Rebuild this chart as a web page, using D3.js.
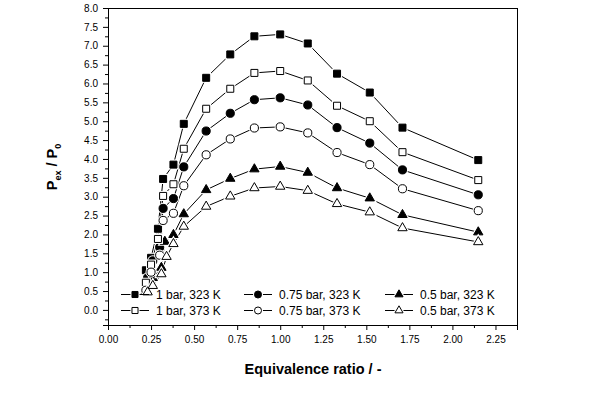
<!DOCTYPE html>
<html>
<head>
<meta charset="utf-8">
<script src="https://cdn.jsdelivr.net/npm/d3@7"></script>
<style>
  body { margin: 0; background: #fff; }
  svg { display: block; font-family: Arial, "Liberation Sans", sans-serif; }
</style>
</head>
<body>
<div id="chart"></div>
<script>
// Equivalence ratio and Pex/P0 for each series
var phi1bar323 = [0.22, 0.25, 0.29, 0.32, 0.38, 0.44, 0.57, 0.71, 0.85, 1.00, 1.16, 1.33, 1.52, 1.71, 2.15];
var p1bar323   = [1.05, 1.38, 2.15, 3.47, 3.85, 4.93, 6.15, 6.77, 7.25, 7.30, 7.06, 6.26, 5.76, 4.83, 3.97];

var phi1bar373 = [0.22, 0.25, 0.29, 0.32, 0.38, 0.44, 0.57, 0.71, 0.85, 1.00, 1.16, 1.33, 1.52, 1.71, 2.15];
var p1bar373   = [0.72, 1.20, 1.88, 3.02, 3.33, 4.27, 5.33, 5.86, 6.28, 6.33, 6.08, 5.41, 5.00, 4.18, 3.44];

var phi075bar323 = [0.23, 0.26, 0.30, 0.32, 0.38, 0.44, 0.57, 0.71, 0.85, 1.00, 1.16, 1.33, 1.52, 1.71, 2.15];
var p075bar323   = [0.85, 1.30, 1.66, 2.69, 2.95, 3.79, 4.74, 5.21, 5.57, 5.62, 5.43, 4.83, 4.42, 3.71, 3.05];

var phi075bar373 = [0.22, 0.25, 0.30, 0.32, 0.38, 0.44, 0.57, 0.71, 0.85, 1.00, 1.16, 1.33, 1.52, 1.71, 2.15];
var p075bar373   = [0.52, 1.00, 1.45, 2.37, 2.56, 3.29, 4.11, 4.53, 4.82, 4.85, 4.69, 4.17, 3.85, 3.21, 2.63];

var phi05bar323 = [0.22, 0.26, 0.31, 0.33, 0.38, 0.44, 0.57, 0.71, 0.85, 1.00, 1.16, 1.33, 1.52, 1.71, 2.15];
var p05bar323   = [0.50, 0.85, 1.12, 1.81, 1.99, 2.54, 3.18, 3.48, 3.73, 3.80, 3.64, 3.23, 2.96, 2.52, 2.06];

var phi05bar373 = [0.23, 0.26, 0.31, 0.34, 0.38, 0.44, 0.57, 0.71, 0.85, 1.00, 1.16, 1.33, 1.52, 1.71, 2.15];
var p05bar373   = [0.47, 0.64, 0.95, 1.41, 1.75, 2.21, 2.74, 3.01, 3.23, 3.27, 3.16, 2.81, 2.59, 2.17, 1.80];

var seriesNames = ['1 bar, 323 K', '0.75 bar, 323 K', '0.5 bar, 323 K',
                   '1 bar, 373 K', '0.75 bar, 373 K', '0.5 bar, 373 K'];

var xTicks = [0, 0.25, 0.5, 0.75, 1, 1.25, 1.5, 1.75, 2, 2.25];
var yTicks = d3.range(0, 8.01, 0.5);

// Build series list (legend order: row 1 = 323 K, row 2 = 373 K)
var series = [
    { name: seriesNames[0], phi: phi1bar323,   p: p1bar323,   shape: d3.symbolSquare,   filled: true },
    { name: seriesNames[1], phi: phi075bar323, p: p075bar323, shape: d3.symbolCircle,   filled: true },
    { name: seriesNames[2], phi: phi05bar323,  p: p05bar323,  shape: d3.symbolTriangle, filled: true },
    { name: seriesNames[3], phi: phi1bar373,   p: p1bar373,   shape: d3.symbolSquare,   filled: false },
    { name: seriesNames[4], phi: phi075bar373, p: p075bar373, shape: d3.symbolCircle,   filled: false },
    { name: seriesNames[5], phi: phi05bar373,  p: p05bar373,  shape: d3.symbolTriangle, filled: false }
];

var svg = d3.select('#chart')
    .append('svg')
    .attr('width', 602)
    .attr('height', 399);

// Scales
var x = d3.scaleLinear().domain([0, 2.375]).range([108, 517]);
var y = d3.scaleLinear().domain([-0.4, 8]).range([325, 8]);

// Marker sizes (area)
function markerSize(shape, legend) {
    var k = legend ? 0.75 : 1;
    if (shape === d3.symbolSquare) return 49 * k;
    if (shape === d3.symbolCircle) return 52 * k;
    return 38 * k;
}

// Frame
svg.append('rect')
    .attr('x', 108.5).attr('y', 8.5)
    .attr('width', 409).attr('height', 317)
    .attr('fill', 'none').attr('stroke', '#000');

// X axis (major + minor)
var xAxis = svg.append('g')
    .attr('transform', 'translate(0,325)')
    .call(d3.axisBottom(x).tickValues(xTicks).tickSize(5).tickPadding(6)
        .tickFormat(d3.format('.2f')));
var xMinor = svg.append('g')
    .attr('transform', 'translate(0,325)')
    .call(d3.axisBottom(x).tickValues(d3.range(0.125, 2.4, 0.25)).tickSize(3).tickFormat(''));
xMinor.select('.domain').remove();

// Y axis (major + minor)
var yAxis = svg.append('g')
    .attr('transform', 'translate(108,0)')
    .call(d3.axisLeft(y).tickValues(yTicks).tickSize(5).tickPadding(5)
        .tickFormat(d3.format('.1f')));
var yMinor = svg.append('g')
    .attr('transform', 'translate(108,0)')
    .call(d3.axisLeft(y).tickValues(d3.range(-0.25, 8, 0.5)).tickSize(3).tickFormat(''));
yMinor.select('.domain').remove();

svg.selectAll('.tick text')
    .attr('font-family', 'Arial, "Liberation Sans", sans-serif')
    .attr('font-size', 10)
    .attr('fill', '#000');
svg.selectAll('.tick line, .domain').attr('stroke', '#000');

// Lines and markers
var line = d3.line()
    .x(function (d) { return x(d[0]); })
    .y(function (d) { return y(d[1]); });

series.forEach(function (s) {
    var pts = s.phi.map(function (v, i) { return [v, s.p[i]]; });
    svg.append('path')
        .datum(pts)
        .attr('d', line)
        .attr('fill', 'none')
        .attr('stroke', '#000')
        .attr('stroke-width', 1);
});

series.forEach(function (s) {
    var pts = s.phi.map(function (v, i) { return [v, s.p[i]]; });
    var sym = d3.symbol().type(s.shape).size(markerSize(s.shape, false));
    var g = svg.append('g');
    // white halo gives the small gap between line and marker
    g.selectAll('path.halo')
        .data(pts).enter().append('path')
        .attr('class', 'halo')
        .attr('d', sym)
        .attr('transform', function (d) { return 'translate(' + x(d[0]) + ',' + y(d[1]) + ')'; })
        .attr('fill', '#fff').attr('stroke', '#fff').attr('stroke-width', 3);
    g.selectAll('path.mark')
        .data(pts).enter().append('path')
        .attr('class', 'mark')
        .attr('d', sym)
        .attr('transform', function (d) { return 'translate(' + x(d[0]) + ',' + y(d[1]) + ')'; })
        .attr('fill', s.filled ? '#000' : '#fff')
        .attr('stroke', '#000').attr('stroke-width', 1);
});

// Legend: 3 columns x 2 rows
var legendCols = [121, 244, 385];
var legendRows = [294.5, 310.5];
series.forEach(function (s, i) {
    var cx = legendCols[i % 3];
    var cy = legendRows[Math.floor(i / 3)];
    var g = svg.append('g').attr('transform', 'translate(' + cx + ',' + cy + ')');
    g.append('line').attr('x1', 0).attr('x2', 28).attr('y1', 0).attr('y2', 0)
        .attr('stroke', '#000');
    var sym = d3.symbol().type(s.shape).size(markerSize(s.shape, true));
    g.append('path').attr('d', sym).attr('transform', 'translate(14,0)')
        .attr('fill', '#fff').attr('stroke', '#fff').attr('stroke-width', 3);
    g.append('path').attr('d', sym).attr('transform', 'translate(14,0)')
        .attr('fill', s.filled ? '#000' : '#fff').attr('stroke', '#000');
    g.append('text').attr('x', 35).attr('y', 4.5)
        .attr('font-size', 12).attr('fill', '#000')
        .text(s.name);
});

// X title
svg.append('text')
    .attr('x', 313).attr('y', 374)
    .attr('text-anchor', 'middle')
    .attr('font-size', 14.5).attr('font-weight', 'bold')
    .text('Equivalence ratio / -');

// Y title
var yt = svg.append('text')
    .attr('transform', 'translate(57,167) rotate(-90)')
    .attr('text-anchor', 'middle')
    .attr('font-size', 14.5).attr('font-weight', 'bold');
yt.append('tspan').text('P');
yt.append('tspan').attr('font-size', 9).attr('dy', 4).text('ex');
yt.append('tspan').attr('dy', -4).text(' / P');
yt.append('tspan').attr('font-size', 9).attr('dy', 4).text('0');
</script>
</body>
</html>
